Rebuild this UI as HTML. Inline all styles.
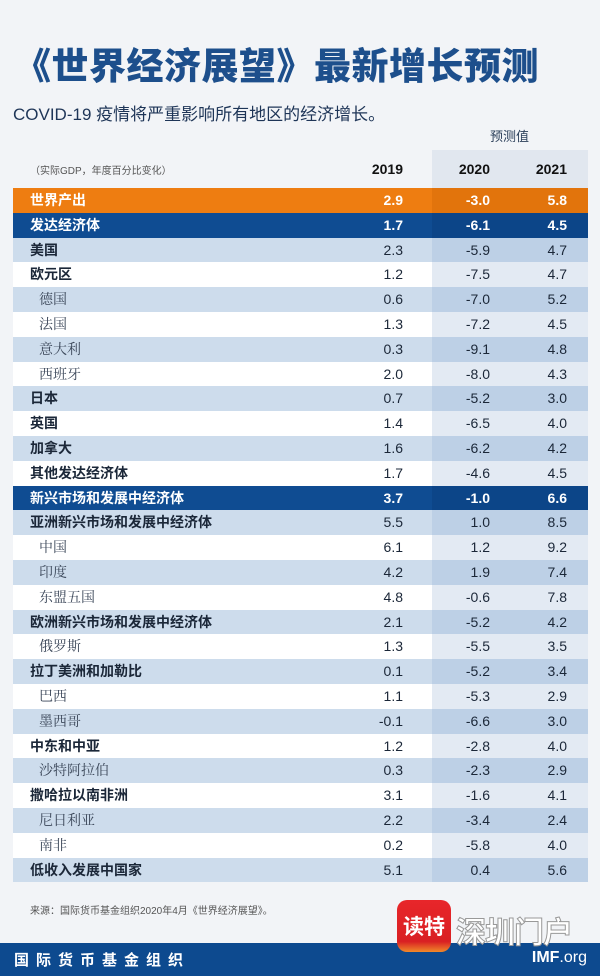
<!DOCTYPE html>
<html><head><meta charset="utf-8">
<style>
*{margin:0;padding:0;box-sizing:border-box}
body{width:600px;height:976px;background:#f2f4f7;position:relative;overflow:hidden;font-family:"Liberation Sans","Noto Sans CJK SC",sans-serif;color:#1b2738}
.title{position:absolute;left:14px;top:36px;font-size:37px;font-weight:900;color:#1d4f8c;letter-spacing:0.5px;white-space:nowrap;font-family:"Noto Sans CJK SC",sans-serif}
.sub{position:absolute;left:13px;top:100px;font-size:17px;color:#1e3557;white-space:nowrap}
.yc{position:absolute;left:490px;top:126px;font-size:13px;color:#2b3f5a}
.fshade{position:absolute;left:432px;top:150px;width:156px;height:38px;background:#e1e7ef}
.unit{position:absolute;left:30px;top:162px;font-size:10px;color:#555}
.hy{position:absolute;top:161px;font-size:14px;font-weight:bold;color:#111;width:60px;text-align:right}
.tbl{position:absolute;left:13px;top:188px;width:575px}
.r{height:24.8px;position:relative;font-size:14px;line-height:24.8px}
.r span{position:absolute;top:0}
.r .n{left:17px}
.r.s .n{left:26px;font-family:"Noto Serif CJK SC",serif;color:#3a4658}
.r.t .n{font-weight:600}
.r .a,.r .b,.r .c{text-align:right;width:60px}
.r .a{left:330px}.r .b{left:417px}.r .c{left:494px}
.r .f{position:absolute;left:419px;top:0;width:156px;height:100%}
.bl{background:#cddcec}.bl .f{background:#bdd0e6}
.wh{background:#ffffff}.wh .f{background:#e3eaf3}
.or{background:#ee7d11;color:#fff;font-weight:bold}.or .f{background:#e2740c}
.db{background:#0f4c92;color:#fff;font-weight:bold}.db .f{background:#0c4588}
.or .n,.db .n{font-weight:bold}
.src{position:absolute;left:30px;top:902px;font-size:10px;color:#555}
.foot{position:absolute;left:0;top:943px;width:600px;height:33px;background:#0d4a8f}
.foot .l{position:absolute;left:14px;top:6px;color:#fff;font-size:15px;font-weight:bold;letter-spacing:7px}
.foot .rr{position:absolute;right:13px;top:6px;color:#fff;font-size:16px}
.logo{position:absolute;left:397px;top:900px;width:54px;height:52px;border-radius:10px;background:linear-gradient(#e8262a,#d92023 80%,#f08a2a);color:#fff;font-size:21px;font-weight:bold;text-align:center;line-height:52px;font-family:"Noto Sans CJK SC",sans-serif}
.sz{position:absolute;left:456px;top:908px;font-size:30px;color:#fff;-webkit-text-stroke:1px #999;font-weight:bold;letter-spacing:-1px;font-family:"Noto Sans CJK SC",sans-serif}
</style></head><body>
<div class="title">《世界经济展望》最新增长预测</div>
<div class="sub">COVID-19 疫情将严重影响所有地区的经济增长。</div>
<div class="yc">预测值</div>
<div class="fshade"></div>
<div class="unit">（实际GDP，年度百分比变化）</div>
<div class="hy" style="left:343px">2019</div>
<div class="hy" style="left:430px">2020</div>
<div class="hy" style="left:507px">2021</div>
<div class="tbl">
<div class="r or"><div class="f"></div><span class="n">世界产出</span><span class="a">2.9</span><span class="b">-3.0</span><span class="c">5.8</span></div>
<div class="r db"><div class="f"></div><span class="n">发达经济体</span><span class="a">1.7</span><span class="b">-6.1</span><span class="c">4.5</span></div>
<div class="r t bl"><div class="f"></div><span class="n">美国</span><span class="a">2.3</span><span class="b">-5.9</span><span class="c">4.7</span></div>
<div class="r t wh"><div class="f"></div><span class="n">欧元区</span><span class="a">1.2</span><span class="b">-7.5</span><span class="c">4.7</span></div>
<div class="r s bl"><div class="f"></div><span class="n">德国</span><span class="a">0.6</span><span class="b">-7.0</span><span class="c">5.2</span></div>
<div class="r s wh"><div class="f"></div><span class="n">法国</span><span class="a">1.3</span><span class="b">-7.2</span><span class="c">4.5</span></div>
<div class="r s bl"><div class="f"></div><span class="n">意大利</span><span class="a">0.3</span><span class="b">-9.1</span><span class="c">4.8</span></div>
<div class="r s wh"><div class="f"></div><span class="n">西班牙</span><span class="a">2.0</span><span class="b">-8.0</span><span class="c">4.3</span></div>
<div class="r t bl"><div class="f"></div><span class="n">日本</span><span class="a">0.7</span><span class="b">-5.2</span><span class="c">3.0</span></div>
<div class="r t wh"><div class="f"></div><span class="n">英国</span><span class="a">1.4</span><span class="b">-6.5</span><span class="c">4.0</span></div>
<div class="r t bl"><div class="f"></div><span class="n">加拿大</span><span class="a">1.6</span><span class="b">-6.2</span><span class="c">4.2</span></div>
<div class="r t wh"><div class="f"></div><span class="n">其他发达经济体</span><span class="a">1.7</span><span class="b">-4.6</span><span class="c">4.5</span></div>
<div class="r db"><div class="f"></div><span class="n">新兴市场和发展中经济体</span><span class="a">3.7</span><span class="b">-1.0</span><span class="c">6.6</span></div>
<div class="r t bl"><div class="f"></div><span class="n">亚洲新兴市场和发展中经济体</span><span class="a">5.5</span><span class="b">1.0</span><span class="c">8.5</span></div>
<div class="r s wh"><div class="f"></div><span class="n">中国</span><span class="a">6.1</span><span class="b">1.2</span><span class="c">9.2</span></div>
<div class="r s bl"><div class="f"></div><span class="n">印度</span><span class="a">4.2</span><span class="b">1.9</span><span class="c">7.4</span></div>
<div class="r s wh"><div class="f"></div><span class="n">东盟五国</span><span class="a">4.8</span><span class="b">-0.6</span><span class="c">7.8</span></div>
<div class="r t bl"><div class="f"></div><span class="n">欧洲新兴市场和发展中经济体</span><span class="a">2.1</span><span class="b">-5.2</span><span class="c">4.2</span></div>
<div class="r s wh"><div class="f"></div><span class="n">俄罗斯</span><span class="a">1.3</span><span class="b">-5.5</span><span class="c">3.5</span></div>
<div class="r t bl"><div class="f"></div><span class="n">拉丁美洲和加勒比</span><span class="a">0.1</span><span class="b">-5.2</span><span class="c">3.4</span></div>
<div class="r s wh"><div class="f"></div><span class="n">巴西</span><span class="a">1.1</span><span class="b">-5.3</span><span class="c">2.9</span></div>
<div class="r s bl"><div class="f"></div><span class="n">墨西哥</span><span class="a">-0.1</span><span class="b">-6.6</span><span class="c">3.0</span></div>
<div class="r t wh"><div class="f"></div><span class="n">中东和中亚</span><span class="a">1.2</span><span class="b">-2.8</span><span class="c">4.0</span></div>
<div class="r s bl"><div class="f"></div><span class="n">沙特阿拉伯</span><span class="a">0.3</span><span class="b">-2.3</span><span class="c">2.9</span></div>
<div class="r t wh"><div class="f"></div><span class="n">撒哈拉以南非洲</span><span class="a">3.1</span><span class="b">-1.6</span><span class="c">4.1</span></div>
<div class="r s bl"><div class="f"></div><span class="n">尼日利亚</span><span class="a">2.2</span><span class="b">-3.4</span><span class="c">2.4</span></div>
<div class="r s wh"><div class="f"></div><span class="n">南非</span><span class="a">0.2</span><span class="b">-5.8</span><span class="c">4.0</span></div>
<div class="r t bl"><div class="f"></div><span class="n">低收入发展中国家</span><span class="a">5.1</span><span class="b">0.4</span><span class="c">5.6</span></div>
</div>
<div class="src">来源：国际货币基金组织2020年4月《世界经济展望》。</div>
<div class="foot"><div class="l">国际货币基金组织</div><div class="rr"><b>IMF</b>.org</div></div>
<div class="logo">读特</div>
<div class="sz">深圳门户</div>
</body></html>
